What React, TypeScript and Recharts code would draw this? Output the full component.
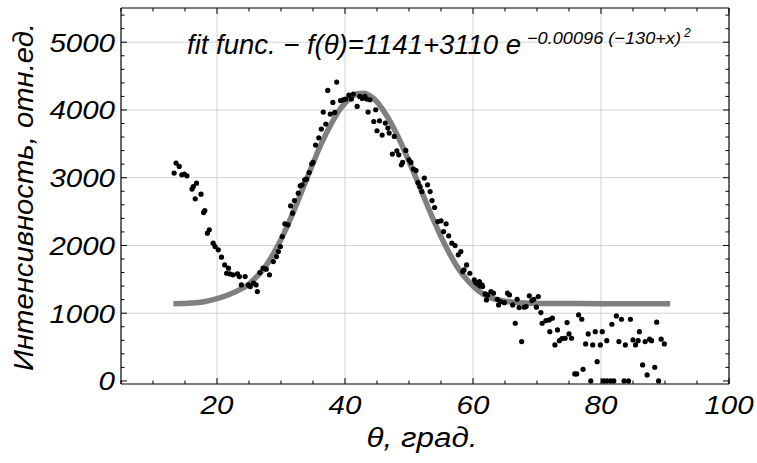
import React from 'react';
import { ComposedChart, Line, Scatter, XAxis, YAxis, CartesianGrid } from 'recharts';

// measured points (theta, intensity)
const dotTheta = [
  13.3, 13.6, 14.1, 14.5, 14.9, 15.3, 16.1, 16.3, 16.6, 16.8, 17.5, 17.9, 18.1, 18.5, 18.8, 19.4, 19.7, 20.2, 20.7, 21.2,
  21.5, 21.8, 22.0, 22.5, 23.2, 23.5, 23.8, 24.4, 24.9, 25.2, 25.7, 26.1, 26.3, 26.7, 27.2, 27.7, 28.2, 28.8, 29.3, 29.6,
  29.9, 30.2, 30.6, 31.1, 31.5, 31.8, 32.1, 32.7, 33.0, 33.3, 33.7, 34.0, 34.4, 34.8, 35.0, 35.4, 35.9, 36.3, 36.6, 37.0,
  37.3, 37.7, 38.1, 38.4, 38.7, 39.3, 39.7, 40.1, 40.6, 41.0, 41.3, 41.9, 42.3, 42.7, 43.1, 43.4, 43.6, 43.9, 44.5, 44.8,
  45.0, 45.4, 45.8, 46.3, 46.7, 46.9, 47.4, 47.7, 48.1, 48.4, 48.8, 49.0, 49.5, 50.0, 50.3, 50.7, 51.1, 51.4, 51.7, 52.0,
  52.4, 52.9, 53.3, 53.6, 54.0, 54.5, 55.0, 55.4, 55.8, 56.2, 56.7, 57.2, 57.7, 58.1, 58.4, 58.6, 59.0, 59.5, 60.2, 60.4,
  60.7, 61.0, 61.1, 61.4, 61.5, 61.9, 62.1, 62.3, 62.8, 63.2, 63.8, 64.0, 64.3, 64.9, 65.4, 65.7, 66.2, 66.6, 66.9, 67.2,
  67.6, 68.0, 68.3, 68.8, 69.2, 69.5, 69.9, 70.2, 70.6, 70.8, 71.4, 71.9, 72.0, 72.4, 72.8, 73.2, 73.5, 73.9, 74.4, 74.7,
  75.0, 75.4, 75.9, 76.2, 76.5, 77.0, 77.2, 77.6, 78.0, 78.4, 78.7, 79.1, 79.4, 79.9, 80.2, 80.4, 80.9, 80.9, 81.5, 81.7,
  82.0, 82.4, 82.8, 83.2, 83.6, 83.8, 84.3, 84.6, 85.0, 85.4, 85.8, 86.0, 86.5, 86.9, 87.2, 87.6, 87.9, 88.4, 88.7, 89.0,
  89.4, 89.9,
];
const dotIntensity = [
  3068, 3216, 3166, 3043, 3053, 3028, 2832, 2870, 2688, 2920, 2757, 2486, 2516, 2181, 2230, 2034, 1984, 1935, 1827, 1713,
  1590, 1665, 1580, 1566, 1580, 1541, 1418, 1541, 1418, 1393, 1443, 1418, 1319, 1600, 1665, 1650, 1566, 1762, 1836, 1910,
  1984, 2131, 2319, 2304, 2585, 2477, 2663, 2772, 2880, 2895, 2969, 2979, 3077, 3205, 3225, 3482, 3589, 3718, 3969, 3792,
  4288, 3939, 4111, 3963, 4412, 4140, 4151, 4161, 4220, 4161, 4235, 4052, 4200, 4170, 4200, 4161, 3969, 4151, 3830, 4003,
  3693, 3840, 3629, 3806, 3732, 3659, 3349, 3609, 3397, 3338, 3190, 3225, 3402, 3264, 3225, 3127, 3106, 2929, 2870, 2796,
  2994, 2895, 2796, 2663, 2560, 2353, 2363, 2205, 2319, 2142, 2034, 1998, 1861, 1910, 1615, 1640, 1713, 1590, 1492, 1452,
  1433, 1467, 1403, 1418, 1393, 1285, 1196, 1270, 1319, 1295, 1206, 1122, 1171, 1156, 1295, 1270, 1122, 852, 1206, 1083,
  581, 1089, 1098, 1256, 1186, 1206, 1089, 1245, 1009, 852, 891, 901, 728, 926, 532, 753, 595, 625, 630, 861,
  694, 630, 103, 103, 975, 911, 172, 547, 694, 0, 532, 728, 285, 532, 728, 0, 0, 595, 0, 837,
  0, 960, 581, 911, 0, 532, 0, 911, 605, 532, 595, 728, 236, 581, 89, 616, 595, 202, 867, 0,
  616, 547,
];

// fitted curve
const fitTheta = [
  13.2, 16, 18, 20, 22, 24, 25, 26, 27, 28, 29, 30, 31, 32, 33, 34, 35, 36, 37, 38, 39, 40, 41, 42, 43, 44, 45, 46, 47,
  48, 49, 50, 51, 52, 53, 54, 55, 56, 57, 58, 59, 60, 61, 62, 63, 64, 66, 68, 72, 80, 90.8,
];
const fitIntensity = [
  1140, 1150, 1170, 1215, 1280, 1370, 1430, 1520, 1620, 1750, 1910, 2090, 2290, 2510, 2740, 2980, 3210, 3440, 3640, 3820,
  3980, 4100, 4190, 4240, 4245, 4200, 4120, 3990, 3840, 3660, 3460, 3240, 3020, 2790, 2560, 2340, 2130, 1940, 1770, 1620,
  1500, 1400, 1320, 1260, 1220, 1195, 1165, 1150, 1143, 1141, 1141,
];

const xTicks = [5, 10, 15, 20, 25, 30, 35, 40, 45, 50, 55, 60, 65, 70, 75, 80, 85, 90, 95, 100];
const xLabels = [20, 40, 60, 80, 100];
const yTicks = [
  0, 200, 400, 600, 800, 1000, 1200, 1400, 1600, 1800, 2000, 2200, 2400, 2600, 2800, 3000, 3200, 3400, 3600, 3800, 4000,
  4200, 4400, 4600, 4800, 5000, 5200, 5400,
];
const yLabels = [0, 1000, 2000, 3000, 4000, 5000];
const xGrid = [20, 40, 60, 80];
const yGrid = [1000, 2000, 3000, 4000, 5000];

const dots = dotTheta.map((x, i) => ({ x, y: dotIntensity[i] }));
const fit = fitTheta.map((x, i) => ({ x, y: fitIntensity[i] }));

const font = '"Liberation Sans", Arial, sans-serif';

const BottomTick = (p: any) => {
  const v = p.payload.value;
  const major = xLabels.includes(v);
  return (
    <g>
      <line x1={p.x} y1={p.y} x2={p.x} y2={p.y - (major ? 6 : 3.5)} stroke="#000" />
      {major && (
        <text x={p.x} y={p.y + 30} textAnchor="middle" fontSize={26} fontStyle="italic" fontFamily={font}
          textLength={String(v).length * 16.4} lengthAdjust="spacingAndGlyphs" fill="#000">
          {v}
        </text>
      )}
    </g>
  );
};

const TopTick = (p: any) => {
  const major = xLabels.includes(p.payload.value);
  return <line x1={p.x} y1={p.y} x2={p.x} y2={p.y + (major ? 6 : 3.5)} stroke="#000" />;
};

const LeftTick = (p: any) => {
  const v = p.payload.value;
  const major = yLabels.includes(v);
  return (
    <g>
      <line x1={p.x} y1={p.y} x2={p.x + (major ? 6 : 3.5)} y2={p.y} stroke="#000" />
      {major && (
        <text x={p.x - 6} y={p.y + 9.3} textAnchor="end" fontSize={26} fontStyle="italic" fontFamily={font}
          textLength={String(v).length * 16.4} lengthAdjust="spacingAndGlyphs" fill="#000">
          {v}
        </text>
      )}
    </g>
  );
};

const RightTick = (p: any) => {
  const major = yLabels.includes(p.payload.value);
  return <line x1={p.x} y1={p.y} x2={p.x - (major ? 6 : 3.5)} y2={p.y} stroke="#000" />;
};

export default function App() {
  return (
    <div style={{ position: 'relative', width: 757, height: 463, background: '#fff' }}>
      <style>{'body{margin:0}'}</style>
      <ComposedChart width={757} height={463} margin={{ top: 0, right: 0, bottom: 0, left: 0 }}>
        <CartesianGrid xAxisId="b" yAxisId="l" verticalValues={xGrid} horizontalValues={yGrid} stroke="#d2d2d2" />
        <XAxis xAxisId="b" type="number" dataKey="x" domain={[5, 100]} allowDataOverflow ticks={xTicks} interval={0}
          height={79} tickSize={0} tickMargin={0} tickLine={false} tick={<BottomTick />}
          axisLine={{ stroke: '#000', strokeWidth: 1.2 }} />
        <XAxis xAxisId="t" orientation="top" type="number" dataKey="x" domain={[5, 100]} allowDataOverflow
          ticks={xTicks} interval={0} height={8} tickSize={0} tickMargin={0} tickLine={false} tick={<TopTick />}
          axisLine={{ stroke: '#000', strokeWidth: 1.2 }} />
        <YAxis yAxisId="l" type="number" dataKey="y" domain={[-45, 5505]} allowDataOverflow ticks={yTicks} interval={0}
          width={121} tickSize={0} tickMargin={0} tickLine={false} tick={<LeftTick />}
          axisLine={{ stroke: '#000', strokeWidth: 1.2 }} />
        <YAxis yAxisId="r" orientation="right" type="number" dataKey="y" domain={[-45, 5505]} allowDataOverflow
          ticks={yTicks} interval={0} width={28} tickSize={0} tickMargin={0} tickLine={false} tick={<RightTick />}
          axisLine={{ stroke: '#000', strokeWidth: 1.2 }} />
        <Line xAxisId="b" yAxisId="l" data={fit} dataKey="y" type="monotone" stroke="#808080" strokeWidth={5.5}
          dot={false} activeDot={false} isAnimationActive={false} />
        <Scatter xAxisId="b" yAxisId="l" data={dots} dataKey="y" fill="#000" isAnimationActive={false}
          shape={(p: any) => <circle cx={p.cx} cy={p.cy} r={2.6} fill="#000" />} />
      </ComposedChart>
      <svg width={757} height={463} style={{ position: 'absolute', left: 0, top: 0, pointerEvents: 'none' }}>
        <text x={187} y={54} fontSize={27} fontStyle="italic" fontFamily={font} fill="#000"
          textLength={334} lengthAdjust="spacingAndGlyphs">
          {'fit func. \u2212 f(\u03b8)=1141+3110 e'}
        </text>
        <text x={527} y={43.5} fontSize={17} fontStyle="italic" fontFamily={font} fill="#000"
          textLength={154} lengthAdjust="spacingAndGlyphs">
          {'\u22120.00096 (\u2212130+x)'}
        </text>
        <text x={684} y={36.5} fontSize={12} fontStyle="italic" fontFamily={font} fill="#000">2</text>
        <text transform="translate(33,197) rotate(-90)" textAnchor="middle" fontSize={27} fontStyle="italic"
          fontFamily={font} fill="#000" textLength={348} lengthAdjust="spacingAndGlyphs">
          Интенсивность, отн.ед.
        </text>
        <text x={422} y={447} textAnchor="middle" fontSize={27} fontStyle="italic" fontFamily={font} fill="#000"
          textLength={111} lengthAdjust="spacingAndGlyphs">
          θ, град.
        </text>
      </svg>
    </div>
  );
}
